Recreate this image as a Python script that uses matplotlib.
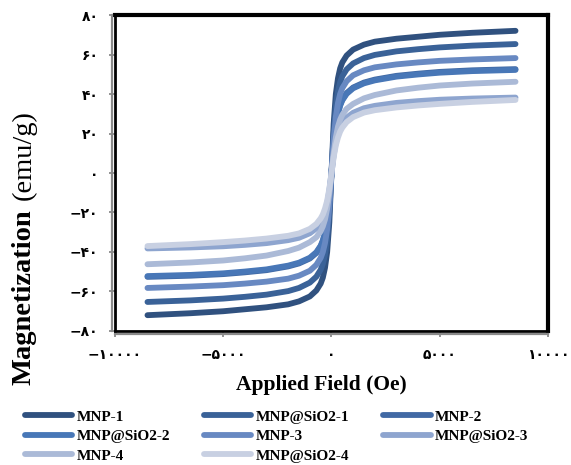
import matplotlib
matplotlib.use("Agg")
import matplotlib.pyplot as plt
import matplotlib.transforms as mtransforms
from matplotlib.lines import Line2D

# applied field (Oe)
field = [-8500, -6500, -5000, -4000, -3000, -2000, -1500, -1000, -700, -500, -400, -300, -200, -100,
         0, 100, 200, 300, 400, 500, 700, 1000, 1500, 2000, 3000, 4000, 5000, 6500, 8500]

names = ["MNP-1", "MNP@SiO2-1", "MNP-2", "MNP@SiO2-2",
         "MNP-3", "MNP@SiO2-3", "MNP-4", "MNP@SiO2-4"]
colors = ["#30517f", "#3a6298", "#4169a4", "#4877b7",
          "#6889c2", "#8ea5cf", "#abbad7", "#c8d0e2"]

# magnetization (emu/g)
mnp1 = [-72, -71, -70, -69, -68, -66.5, -65, -62.5, -59.5, -56, -53, -48, -40, -25,
        0, 25, 40, 48, 53, 56, 59.5, 62.5, 65, 66.5, 68, 69, 70, 71, 72]
mnp_si1 = [-65.3, -64.5, -63.6, -62.7, -61.6, -59.8, -58.2, -55.5, -52.5, -49, -46, -41.5, -34, -20,
           0, 20, 34, 41.5, 46, 49, 52.5, 55.5, 58.2, 59.8, 61.6, 62.7, 63.6, 64.5, 65.3]
mnp2 = [-52.6, -52, -51.2, -50.3, -49.2, -47.3, -45.8, -43.3, -40.5, -37.2, -34.5, -30.5, -24, -14,
        0, 14, 24, 30.5, 34.5, 37.2, 40.5, 43.3, 45.8, 47.3, 49.2, 50.3, 51.2, 52, 52.6]
mnp_si2 = [-52.2, -51.6, -50.8, -49.9, -48.8, -46.9, -45.4, -42.9, -40.1, -36.8, -34.1, -30.1, -23.6, -13.6,
           0, 13.6, 23.6, 30.1, 34.1, 36.8, 40.1, 42.9, 45.4, 46.9, 48.8, 49.9, 50.8, 51.6, 52.2]
mnp3 = [-58.2, -57.5, -56.8, -56, -55, -53.5, -52, -49.5, -46.5, -43, -40, -35.5, -28.5, -17,
        0, 17, 28.5, 35.5, 40, 43, 46.5, 49.5, 52, 53.5, 55, 56, 56.8, 57.5, 58.2]
mnp_si3 = [-38.2, -37.7, -37.1, -36.4, -35.5, -34, -32.8, -30.5, -28, -25.2, -23, -19.8, -15.5, -9,
           0, 9, 15.5, 19.8, 23, 25.2, 28, 30.5, 32.8, 34, 35.5, 36.4, 37.1, 37.7, 38.2]
mnp4 = [-46.2, -45.3, -44.3, -43.2, -41.8, -39.5, -37.8, -35, -32.5, -29.5, -27, -23.5, -18, -10,
        0, 10, 18, 23.5, 27, 29.5, 32.5, 35, 37.8, 39.5, 41.8, 43.2, 44.3, 45.3, 46.2]
mnp_si4 = [-37, -36, -35, -34.2, -33.2, -31.8, -30.6, -28.3, -25.8, -23, -21, -18, -14, -8,
           0, 8, 14, 18, 21, 23, 25.8, 28.3, 30.6, 31.8, 33.2, 34.2, 35, 36, 37]

series = [mnp1, mnp_si1, mnp2, mnp_si2, mnp3, mnp_si3, mnp4, mnp_si4]

xticks = [-10000, -5000, 0, 5000, 10000]
yticks = [-80, -60, -40, -20, 0, 20, 40, 60, 80]

def fa(v):
    # Persian digits as in the original chart
    digs = "۰۱۲۳۴۵۶۷۸۹"
    s = "".join(digs[int(c)] for c in str(abs(v)))
    return ("\u2212" + s) if v < 0 else s

fig = plt.figure(figsize=(5.71, 4.65), dpi=100)
ax = fig.add_axes([0.2014, 0.2882, 0.7583, 0.6795])

handles = []
for m, c, n in zip(series, colors, names):
    h, = ax.plot(field, m, color=c, lw=4.2, solid_capstyle="round", solid_joinstyle="round", label=n)
    handles.append(h)

ax.set_xlim(-10000, 10000)
ax.set_ylim(-80, 80)
ax.set_xticks(xticks)
ax.set_yticks(yticks)
tickfont = dict(family=["DejaVu Sans"], weight="bold", size=10)
ax.set_xticklabels([fa(v) for v in xticks], **tickfont)
ax.set_yticklabels([fa(v) for v in yticks], **tickfont)
ax.tick_params(direction="out", length=4, width=1.3, color="#8a8a8a", pad=8)

for s in ["left", "bottom"]:
    ax.spines[s].set_linewidth(2)
for s in ["top", "right"]:
    ax.spines[s].set_linewidth(3)
for s in ax.spines.values():
    s.set_color("black")

# gray axis lines just outside the frame
off_l = mtransforms.offset_copy(ax.transAxes, fig=fig, x=-2.5, y=0, units="points")
off_b = mtransforms.offset_copy(ax.transAxes, fig=fig, x=0, y=-2.5, units="points")
fig.add_artist(Line2D([0, 0], [0, 1], transform=off_l, color="#8a8a8a", lw=1.6))
fig.add_artist(Line2D([0, 1], [0, 0], transform=off_b, color="#8a8a8a", lw=1.6))

serif = "Liberation Serif"
fig.text(0.042, 1 - 385 / 465, "Magnetization", rotation=90, ha="center", va="bottom",
         family=serif, weight="bold", fontsize=20.5)
fig.text(0.042, 1 - 200 / 465, "(emu/g)", rotation=90, ha="center", va="bottom",
         family=serif, fontsize=20.5)
fig.text(0.563, 1 - 385 / 465, "Applied Field (Oe)", ha="center", va="center",
         family=serif, weight="bold", fontsize=15.5)

order = [0, 3, 6, 1, 4, 7, 2, 5]
leg = fig.legend([handles[i] for i in order], [names[i] for i in order], ncol=3,
                 loc="upper left", bbox_to_anchor=(25 / 571, 1 - 410 / 465), frameon=False,
                 prop=dict(family=serif, weight="bold", size=11),
                 handlelength=3.1, handletextpad=0.3, columnspacing=2.2,
                 labelspacing=0.38, borderaxespad=0, borderpad=0)

fig.savefig("out.png", dpi=100)
